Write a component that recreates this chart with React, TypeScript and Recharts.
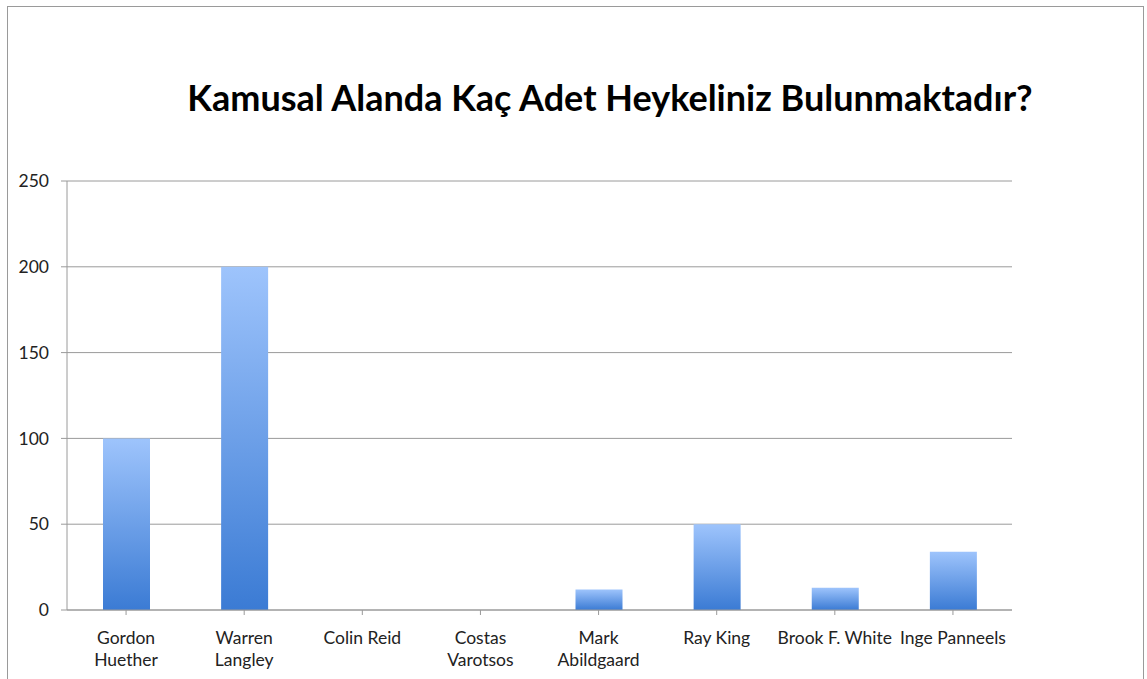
import React from 'react';
import { BarChart, Bar, XAxis, YAxis, CartesianGrid } from 'recharts';

// heykel sayıları
const SCULPTORS = [
  'Gordon\nHuether',
  'Warren\nLangley',
  'Colin Reid',
  'Costas\nVarotsos',
  'Mark\nAbildgaard',
  'Ray King',
  'Brook F. White',
  'Inge Panneels',
];
const COUNTS = [100, 200, 0, 0, 12, 50, 13, 34];
const Y_TICKS = [0, 50, 100, 150, 200, 250];

const TITLE = 'Kamusal Alanda Kaç Adet Heykeliniz Bulunmaktadır?';
const FONT = 'Lato, "Open Sans", sans-serif';

const chartData = SCULPTORS.map((name, i) => ({ name, count: COUNTS[i] }));

function WrappedTick({ x, y, payload }: { x?: number; y?: number; payload?: { value: string } }) {
  const lines = String(payload?.value ?? '').split('\n');
  return (
    <text x={x} y={(y ?? 0) + 27} textAnchor="middle" fill="#222" fontSize={17.5} fontFamily={FONT}>
      {lines.map((line, i) => (
        <tspan key={i} x={x} dy={i === 0 ? 0 : 22}>
          {line}
        </tspan>
      ))}
    </text>
  );
}

export default function App() {
  return (
    <div
      style={{
        position: 'absolute',
        left: 0,
        top: 0,
        width: 1147,
        height: 679,
        background: '#fff',
        overflow: 'hidden',
      }}
    >
      <div
        style={{
          position: 'absolute',
          left: 7,
          top: 6,
          width: 1135,
          height: 720,
          border: '1px solid #9a9a9a',
        }}
      />
      <div
        style={{
          position: 'absolute',
          left: 0,
          top: 75,
          width: 1220,
          textAlign: 'center',
          fontFamily: FONT,
          fontWeight: 700,
          fontSize: 36,
          color: '#000',
          whiteSpace: 'nowrap',
        }}
      >
        {TITLE}
      </div>
      <div style={{ position: 'absolute', left: 0, top: 0 }}>
        <BarChart
          width={1147}
          height={679}
          data={chartData}
          margin={{ top: 181, right: 135, left: 0, bottom: 0 }}
          barCategoryGap="30%"
        >
          <defs>
            <linearGradient id="barFill" x1="0" y1="0" x2="0" y2="1">
              <stop offset="0%" stopColor="#9ec4fc" />
              <stop offset="100%" stopColor="#3b7bd4" />
            </linearGradient>
          </defs>
          <CartesianGrid stroke="#9a9a9a" vertical={false} />
          <XAxis
            dataKey="name"
            height={69}
            interval={0}
            tick={<WrappedTick />}
            tickSize={5}
            axisLine={{ stroke: '#9a9a9a' }}
            tickLine={{ stroke: '#9a9a9a' }}
          />
          <YAxis
            width={67}
            domain={[0, 250]}
            ticks={Y_TICKS}
            tickSize={6}
            tickMargin={12}
            tick={{ fill: '#222', fontSize: 17.5, fontFamily: FONT }}
            axisLine={{ stroke: '#9a9a9a' }}
            tickLine={{ stroke: '#9a9a9a' }}
          />
          <Bar dataKey="count" fill="url(#barFill)" barSize={47} isAnimationActive={false} />
        </BarChart>
      </div>
    </div>
  );
}
